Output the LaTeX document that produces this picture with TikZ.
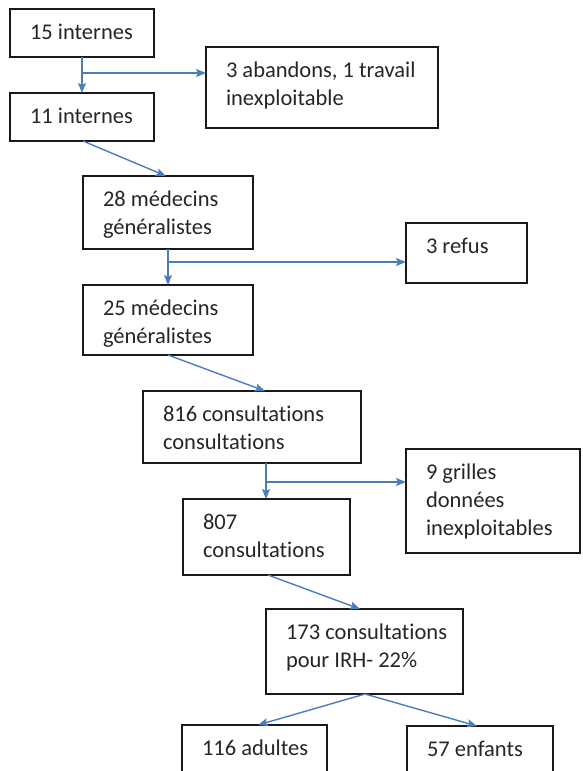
\documentclass[tikz,border=0pt]{standalone}
\usepackage{fontspec}
\setmainfont{Carlito}[Ligatures=NoCommon]
\usetikzlibrary{arrows.meta,calc}
\definecolor{arrblue}{RGB}{74,126,187}
\definecolor{boxline}{RGB}{25,25,25}
\newcommand{\bxt}[3]{\parbox[t][#2pt][t]{#1pt}{\leftskip=20pt\rightskip=0pt plus 1fil\parindent=0pt\rule{0pt}{30pt}#3}}
\begin{document}
\begin{tikzpicture}[x=1pt,y=-1pt,
  box/.style={draw=boxline, line width=1.5pt, inner sep=0pt, outer sep=0pt, anchor=north west,
    font=\fontsize{22.5}{28}\selectfont, text=black!85},
  arr/.style={draw=arrblue, line width=1.4pt, -{Stealth[length=10pt,width=8pt,inset=2pt]}}]
\useasboundingbox (0,0) rectangle (582,771);
\node[box] (b1) at (10,9) {\bxt{144}{48}{15 internes}};
\node[box] (b2) at (10,93) {\bxt{144}{48}{11 internes}};
\node[box] (ab) at (206,47) {\bxt{232}{81}{3 abandons, 1 travail\\inexploitable}};
\node[box] (m28) at (83,176) {\bxt{170}{73}{28 médecins\\généralistes}};
\node[box] (rf) at (406,223) {\bxt{121}{60}{3 refus}};
\node[box] (m25) at (83,285) {\bxt{170}{70}{25 médecins\\généralistes}};
\node[box] (c816) at (143,391) {\bxt{218}{72}{816 consultations\\consultations}};
\node[box] (gr) at (406,449) {\bxt{174}{104}{9 grilles\\données\\inexploitables}};
\node[box] (c807) at (183,499) {\bxt{167}{76}{807\\consultations}};
\node[box] (c173) at (266,609) {\bxt{197}{85}{173 consultations\\pour IRH- 22\%}};
\node[box] (ad) at (182,725) {\bxt{145}{70}{116 adultes}};
\node[box] (en) at (407,726) {\bxt{146}{70}{57 enfants}};

\draw[arr] ([xshift=72pt]b1.south west) -- ([xshift=72pt]b2.north west);
\coordinate (j1) at ([xshift=72pt,yshift=-16pt]b1.south west);
\draw[arr] (j1) -- (j1 -| ab.west);
\draw[arr] ([xshift=73pt]b2.south west) -- ([xshift=83pt]m28.north west);
\draw[arr] ([xshift=85pt]m28.south west) -- ([xshift=85pt]m25.north west);
\coordinate (j2) at ([xshift=85pt,yshift=-13pt]m28.south west);
\draw[arr] (j2) -- (j2 -| rf.west);
\draw[arr] ([xshift=85pt]m25.south west) -- ([xshift=122pt]c816.north west);
\draw[arr] ([xshift=123pt]c816.south west) -- ([xshift=83pt]c807.north west);
\coordinate (j3) at ([xshift=123pt,yshift=-19pt]c816.south west);
\draw[arr] (j3) -- (j3 -| gr.west);
\draw[arr] ([xshift=85pt]c807.south west) -- ([xshift=94pt]c173.north west);
\draw[arr] ([xshift=99pt]c173.south west) -- ([xshift=76pt]ad.north west);
\draw[arr] ([xshift=99pt]c173.south west) -- ([xshift=70pt]en.north west);
\end{tikzpicture}
\end{document}
